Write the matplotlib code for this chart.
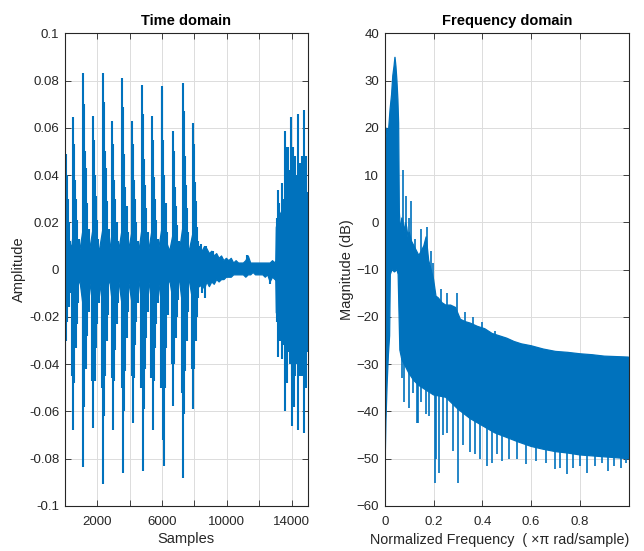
import numpy as np
import matplotlib
matplotlib.use("Agg")
import matplotlib.pyplot as plt

# ---------------- data: time domain ----------------
core_x = [1, 200, 400, 520, 700, 900, 1140, 1300, 1500, 1730, 1900, 2100, 2365, 2550, 2750,
          2940, 3100, 3300, 3555, 3700, 3900, 4170, 4350, 4550, 4770, 4950, 5150, 5385, 5550,
          5750, 6000, 6200, 6450, 6680, 6850, 7050, 7280, 7450, 7650, 7895, 8050, 8200,
          8300, 8450, 8600, 8750, 8900, 9050, 9200, 9350, 9500, 9650, 9800, 9950, 10100, 10250,
          10400, 10550, 10700, 10850, 11000, 11150, 11300, 11450, 11600, 11750, 11900, 12050,
          12200, 12350, 12500, 12650, 12800, 12950,
          13000, 13030, 13150, 13300, 13450, 13600, 13800, 14000, 14200, 14400, 14600, 14800, 15000]
core_hi = [0.012, 0.014, 0.009, 0.018, 0.013, 0.008, 0.019, 0.013, 0.008, 0.018, 0.013, 0.008,
           0.019, 0.013, 0.008, 0.018, 0.012, 0.008, 0.019, 0.013, 0.008, 0.018, 0.012, 0.008,
           0.019, 0.013, 0.008, 0.018, 0.013, 0.008, 0.019, 0.013, 0.008, 0.016, 0.012, 0.008,
           0.019, 0.013, 0.008, 0.016, 0.012, 0.010,
           0.010, 0.008, 0.010, 0.009, 0.007, 0.008, 0.006, 0.007, 0.005, 0.006, 0.004, 0.005,
           0.004, 0.005, 0.003, 0.004, 0.003, 0.003, 0.003, 0.004, 0.006, 0.003, 0.003, 0.003,
           0.003, 0.003, 0.003, 0.003, 0.003, 0.003, 0.004, 0.003,
           0.004, 0.018, 0.022, 0.024, 0.026, 0.028, 0.029, 0.030, 0.031, 0.032, 0.032, 0.032, 0.032]
core_lo = [-0.012, -0.010, -0.006, -0.016, -0.009, -0.004, -0.017, -0.009, -0.004, -0.016,
           -0.009, -0.004, -0.017, -0.009, -0.004, -0.016, -0.009, -0.004, -0.017, -0.009,
           -0.004, -0.016, -0.009, -0.004, -0.017, -0.009, -0.004, -0.016, -0.009, -0.004,
           -0.017, -0.009, -0.004, -0.014, -0.008, -0.004, -0.017, -0.009, -0.004, -0.014,
           -0.008, -0.007,
           -0.007, -0.006, -0.008, -0.005, -0.007, -0.005, -0.006, -0.004, -0.005, -0.004,
           -0.004, -0.003, -0.003, -0.003, -0.002, -0.002, -0.002, -0.002, -0.002, -0.003,
           -0.002, -0.002, -0.001, -0.002, -0.002, -0.002, -0.002, -0.003, -0.002, -0.005,
           -0.003, -0.004,
           -0.004, -0.018, -0.020, -0.022, -0.024, -0.025, -0.026, -0.027, -0.028, -0.028,
           -0.029, -0.030, -0.030]

up_x = [10, 60, 120, 190, 260, 350,
        520, 580, 640, 710, 780, 870,
        1140, 1200, 1260, 1330, 1400, 1490,
        1730, 1790, 1850, 1920, 1990, 2080,
        2365, 2425, 2485, 2555, 2625, 2715,
        2940, 3000, 3060, 3130, 3200, 3290,
        3555, 3615, 3675, 3745, 3815, 3905,
        4170, 4230, 4290, 4360, 4430, 4520,
        4770, 4830, 4890, 4960, 5030, 5120,
        5385, 5445, 5505, 5575, 5645, 5735,
        6000, 6030, 6090, 6160, 6230, 6320,
        6680, 6740, 6800, 6870, 6940, 7030,
        7280, 7340, 7400, 7470, 7540, 7630,
        7895, 7955, 8015, 8085, 8155, 8245,
        8420, 8700, 9150, 11230,
        13078, 13180, 13250, 13387, 13480, 13590, 13650, 13695, 13795, 13880, 13961, 14030,
        14103, 14207, 14290, 14374, 14440, 14516, 14621, 14700, 14782, 14840, 14886, 14960]
up_y = [0.028, 0.049, 0.040, 0.030, 0.020, 0.012,
        0.0645, 0.053, 0.038, 0.030, 0.021, 0.013,
        0.083, 0.070, 0.050, 0.043, 0.028, 0.017,
        0.065, 0.055, 0.040, 0.031, 0.021, 0.013,
        0.083, 0.071, 0.050, 0.043, 0.029, 0.017,
        0.063, 0.053, 0.038, 0.030, 0.020, 0.012,
        0.081, 0.069, 0.049, 0.035, 0.027, 0.016,
        0.063, 0.053, 0.038, 0.030, 0.020, 0.012,
        0.078, 0.066, 0.047, 0.036, 0.026, 0.016,
        0.065, 0.055, 0.039, 0.030, 0.021, 0.013,
        0.0775, 0.076, 0.055, 0.040, 0.028, 0.016,
        0.0585, 0.050, 0.035, 0.027, 0.019, 0.012,
        0.079, 0.067, 0.048, 0.036, 0.026, 0.016,
        0.062, 0.053, 0.037, 0.029, 0.018, 0.012,
        0.011, 0.010, 0.008, 0.006,
        0.022, 0.0337, 0.028, 0.0368, 0.030, 0.0585, 0.040, 0.052, 0.052, 0.042, 0.0645, 0.045,
        0.052, 0.048, 0.040, 0.066, 0.042, 0.045, 0.048, 0.040, 0.0675, 0.042, 0.048, 0.033]
dn_x = [30, 90, 160, 240, 330,
        480, 535, 600, 670, 750, 850,
        1100, 1152, 1220, 1290, 1370, 1470,
        1690, 1770, 1840, 1910, 1990, 2090,
        2325, 2370, 2440, 2510, 2590, 2690,
        2900, 2985, 3055, 3125, 3205, 3305,
        3515, 3600, 3670, 3740, 3820, 3920,
        4130, 4195, 4265, 4335, 4415, 4515,
        4730, 4810, 4880, 4950, 5030, 5130,
        5345, 5430, 5500, 5570, 5650, 5750,
        5960, 6080, 6110, 6180, 6260, 6360,
        6640, 6700, 6770, 6840, 6920, 7020,
        7240, 7315, 7385, 7455, 7535, 7635,
        7855, 7935, 8005, 8075, 8155, 8255,
        8450, 8650, 12700,
        13078, 13180, 13300, 13387, 13480, 13590, 13650, 13730, 13830, 13900, 14000, 14060,
        14140, 14240, 14310, 14374, 14450, 14516, 14621, 14700, 14770, 14840, 14886, 14950]
dn_y = [-0.040, -0.030, -0.022, -0.016, -0.010,
        -0.045, -0.068, -0.048, -0.033, -0.023, -0.014,
        -0.051, -0.0835, -0.058, -0.042, -0.028, -0.018,
        -0.047, -0.067, -0.047, -0.033, -0.023, -0.014,
        -0.050, -0.0905, -0.062, -0.045, -0.030, -0.019,
        -0.046, -0.068, -0.047, -0.034, -0.023, -0.014,
        -0.050, -0.086, -0.060, -0.043, -0.029, -0.018,
        -0.045, -0.065, -0.046, -0.032, -0.022, -0.014,
        -0.050, -0.085, -0.059, -0.042, -0.029, -0.018,
        -0.046, -0.068, -0.047, -0.033, -0.023, -0.014,
        -0.050, -0.072, -0.083, -0.050, -0.033, -0.019,
        -0.040, -0.0575, -0.040, -0.029, -0.020, -0.013,
        -0.052, -0.088, -0.061, -0.043, -0.030, -0.018,
        -0.042, -0.059, -0.042, -0.030, -0.020, -0.012,
        -0.010, -0.012, -0.006,
        -0.022, -0.037, -0.030, -0.038, -0.032, -0.060, -0.042, -0.048, -0.035, -0.040, -0.066, -0.045,
        -0.058, -0.045, -0.040, -0.068, -0.042, -0.045, -0.045, -0.040, -0.069, -0.045, -0.050, -0.035]

# ---------------- data: frequency domain ----------------
f_hi = [0, 0.003, 0.008, 0.015, 0.022, 0.028, 0.033, 0.038, 0.042, 0.046,
        0.05, 0.054, 0.057, 0.06, 0.065, 0.07, 0.075, 0.08, 0.085, 0.09,
        0.095, 0.1, 0.11, 0.12, 0.13, 0.14, 0.15, 0.16, 0.17, 0.18,
        0.19, 0.2, 0.21, 0.22, 0.235, 0.25, 0.27, 0.29, 0.31, 0.33,
        0.35, 0.38, 0.41, 0.44, 0.47, 0.5, 0.53, 0.56, 0.6, 0.65,
        0.7, 0.75, 0.8, 0.85, 0.9, 0.95, 0.999]
mag_hi = [15, 16, 20, 19, 24, 27, 31, 33, 35, 33,
          30, 26, 21, 2, -2, 1, 0, -2, 0, -1,
          -3, -2, -4, -5, -6, -7, -6, -5, -3, -8,
          -10, -12, -15.6, -16, -17, -17.5, -17.5, -18, -20.5, -21,
          -21.3, -22, -22.5, -23.5, -24, -24.5, -25.2, -25.7, -26.1, -26.8,
          -27.3, -27.5, -27.8, -28, -28.3, -28.4, -28.5]
f_lo = [0, 0.002, 0.005, 0.01, 0.015, 0.02, 0.023, 0.03, 0.04, 0.05,
        0.055, 0.058, 0.062, 0.07, 0.08, 0.09, 0.1, 0.12, 0.14, 0.17,
        0.2, 0.25, 0.3, 0.35, 0.4, 0.45, 0.5, 0.55, 0.6, 0.65,
        0.7, 0.75, 0.8, 0.85, 0.9, 0.95, 0.999]
mag_lo = [-51, -50, -42, -34, -28, -24, -11, -10, -10.5, -10,
          -11, -18, -27, -29, -30, -31, -32, -33.5, -34.5, -35.5,
          -36.5, -37, -39.5, -41.5, -43, -44.5, -45.5, -46.5, -47.4, -48,
          -48.5, -48.8, -49.2, -49.4, -49.6, -49.8, -50]
fup_x = [0.076, 0.087, 0.1, 0.107, 0.125, 0.149, 0.172, 0.19, 0.198, 0.23,
         0.255, 0.295, 0.33, 0.36, 0.4, 0.45]
fup_y = [11, 5.5, 1, 4.5, -3.5, -1.5, -1, -6, -8.5, -14,
         -15, -15, -19, -20, -21, -23]
fdn_x = [0.07, 0.08, 0.101, 0.115, 0.131, 0.137, 0.15, 0.169, 0.18, 0.206,
         0.212, 0.222, 0.24, 0.255, 0.28, 0.302, 0.32, 0.35, 0.37, 0.39,
         0.418, 0.44, 0.46, 0.48, 0.51, 0.54, 0.58, 0.62, 0.66, 0.698,
         0.72, 0.746, 0.77, 0.8, 0.828, 0.86, 0.89, 0.916, 0.94, 0.97, 0.99]
fdn_y = [-33, -38, -39.3, -36, -42.4, -42.5, -38, -40.5, -41, -55.2,
         -50, -53.1, -45, -44.5, -48.4, -55.2, -47, -48.5, -49, -50,
         -51.5, -51, -49, -50.5, -50, -50, -51.2, -50.5, -51, -52.2,
         -52, -53.2, -52, -51.5, -53, -51.5, -51, -52.5, -51.5, -52, -51]

# ---------------- style ----------------
plt.rcParams['font.family'] = ['Liberation Sans', 'DejaVu Sans']
BLUE = '#0072BD'
TXT = '#262626'

fig = plt.figure(figsize=(6.44, 5.51), dpi=100)
ax1 = fig.add_axes([0.1005, 0.0817, 0.3773, 0.8579])
ax2 = fig.add_axes([0.5974, 0.0817, 0.3789, 0.8579])


def style(ax):
    ax.grid(True, color='#dcdcdc', linewidth=0.7)
    ax.set_axisbelow(True)
    ax.tick_params(direction='in', length=4, width=0.6, colors=TXT, labelsize=9.5,
                   top=True, right=True)
    ax.tick_params(axis='x', pad=7)
    ax.tick_params(axis='y', pad=4)
    for s in ax.spines.values():
        s.set_color(TXT)
        s.set_linewidth(0.8)


# time domain
ax1.fill_between(core_x, core_lo, core_hi, color=BLUE, linewidth=0.9)
ax1.vlines(up_x, 0, up_y, color=BLUE, linewidth=1.5)
ax1.vlines(dn_x, dn_y, 0, color=BLUE, linewidth=1.5)
ax1.set_xlim(1, 15000)
ax1.set_ylim(-0.1, 0.1)
ax1.set_xticks([2000, 4000, 6000, 8000, 10000, 12000, 14000])
ax1.set_xticklabels(['2000', '', '6000', '', '10000', '', '14000'])
yt = [-0.1, -0.08, -0.06, -0.04, -0.02, 0, 0.02, 0.04, 0.06, 0.08, 0.1]
ax1.set_yticks(yt)
ax1.set_yticklabels(['-0.1', '-0.08', '-0.06', '-0.04', '-0.02', '0', '0.02', '0.04',
                     '0.06', '0.08', '0.1'])
style(ax1)
ax1.set_title('Time domain', fontsize=10.5, fontweight='bold', color='black', pad=6)
ax1.set_xlabel('Samples', fontsize=10.5, color=TXT, labelpad=3)
ax1.set_ylabel('Amplitude', fontsize=10.5, color=TXT, labelpad=2)

# frequency domain
ax2.fill(list(f_hi) + list(f_lo[::-1]), list(mag_hi) + list(mag_lo[::-1]),
         color=BLUE, linewidth=0.9)
ax2.vlines(fup_x, -28, fup_y, color=BLUE, linewidth=1.2)
ax2.vlines(fdn_x, fdn_y, -29, color=BLUE, linewidth=1.2)
ax2.set_xlim(0, 0.9999)
ax2.set_ylim(-60, 40)
ax2.set_xticks([0, 0.2, 0.4, 0.6, 0.8])
ax2.set_xticklabels(['0', '0.2', '0.4', '0.6', '0.8'])
ax2.set_yticks(range(-60, 41, 10))
style(ax2)
ax2.set_title('Frequency domain', fontsize=10.5, fontweight='bold', color='black', pad=6)
ax2.set_xlabel('Normalized Frequency  ( \u00d7\u03c0 rad/sample)', fontsize=10.3, color=TXT,
               labelpad=1)
ax2.xaxis.set_label_coords(0.473, -0.058)
ax2.set_ylabel('Magnitude (dB)', fontsize=10.5, color=TXT, labelpad=2)

fig.savefig('out.png', dpi=100)
